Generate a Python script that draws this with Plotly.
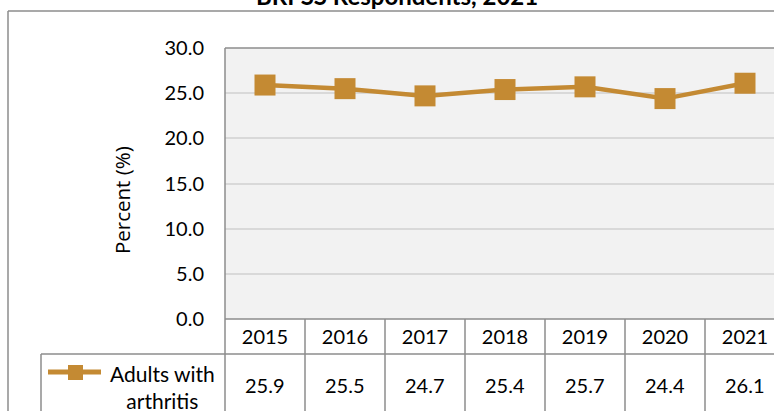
import plotly.graph_objects as go

years = ["2015", "2016", "2017", "2018", "2019", "2020", "2021"]
values = [25.9, 25.5, 24.7, 25.4, 25.7, 24.4, 26.1]
series_name = "Adults with<br>arthritis"
y_ticks = [0, 5, 10, 15, 20, 25, 30]
title_text = "BRFSS Respondents, 2021"
y_title = "Percent (%)"

W, H = 774, 411
L, T, B_PX = 225, 48, 319
PW, PH = W - L, B_PX - T
LINE = "#C48A33"
BORDER = "#8c8c8c"
FONT = "Lato"


def px_x(px):
    return (px - L) / PW


def px_y(py):
    return (B_PX - py) / PH


fig = go.Figure()
fig.add_trace(go.Scatter(
    x=list(range(len(years))), y=values, mode="lines+markers",
    line=dict(color=LINE, width=4.5),
    marker=dict(symbol="square", size=21, color=LINE),
    showlegend=False, cliponaxis=False,
))

shapes = []


def seg(x0, y0, x1, y1, xref="paper", color=BORDER, width=1.5):
    shapes.append(dict(type="line", xref=xref, yref="paper", x0=x0, y0=y0,
                       x1=x1, y1=y1, line=dict(color=color, width=width)))


# outer chart frame
seg(px_x(8), px_y(11), px_x(8), px_y(415))
seg(px_x(8), px_y(11), px_x(780), px_y(11))
# plot area border
seg(0, px_y(T), 0, px_y(415))
seg(0, px_y(T), px_x(780), px_y(T))
seg(0, 0, px_x(780), 0)
# table lines
seg(px_x(41), px_y(354), px_x(780), px_y(354))
seg(px_x(41), px_y(354), px_x(41), px_y(415))
for i in range(len(years) - 1):
    seg(i + 0.5, 0, i + 0.5, px_y(415), xref="x")

# legend sample
seg(px_x(48), px_y(372), px_x(101), px_y(372), color=LINE, width=5)
shapes.append(dict(type="rect", xref="paper", yref="paper",
                   x0=px_x(68), x1=px_x(83), y0=px_y(365), y1=px_y(380),
                   fillcolor=LINE, line=dict(width=0)))

annotations = [
    dict(text=f"<b>{title_text}</b>", xref="paper", yref="paper",
         x=px_x(397), y=px_y(-4), xanchor="center", yanchor="middle",
         showarrow=False, font=dict(family=FONT, size=24, color="#000")),
    dict(text=y_title, xref="paper", yref="paper", textangle=-90,
         x=px_x(122), y=px_y(200), xanchor="center", yanchor="middle",
         showarrow=False, font=dict(family="Open Sans", size=20.5, color="#000")),
    dict(text=series_name, xref="paper", yref="paper",
         x=px_x(162), y=px_y(387), xanchor="center", yanchor="middle",
         showarrow=False, align="center",
         font=dict(family=FONT, size=21, color="#000")),
]
for i, v in enumerate(values):
    annotations.append(dict(text=f"{v:.1f}", xref="x", yref="paper",
                            x=i, y=px_y(385), xanchor="center",
                            yanchor="middle", showarrow=False,
                            font=dict(family=FONT, size=20, color="#000")))

fig.update_layout(
    width=W, height=H,
    margin=dict(l=L, r=0, t=T, b=H - B_PX, pad=0),
    paper_bgcolor="white", plot_bgcolor="#f2f2f2",
    shapes=shapes, annotations=annotations,
    xaxis=dict(range=[-0.5, 6.5 - 11 / 80], tickmode="array",
               tickvals=list(range(len(years))), ticktext=years,
               showgrid=False, zeroline=False, ticks="", showline=False,
               tickfont=dict(family=FONT, size=20, color="#000"),
               ticklabelstandoff=4),
    yaxis=dict(range=[0, 30], tickvals=y_ticks,
               ticktext=[f"{t:.1f}" for t in y_ticks],
               showgrid=True, gridcolor="#d9d9d9", gridwidth=1.5,
               zeroline=False, ticks="", showline=False,
               tickfont=dict(family=FONT, size=20, color="#000"),
               ticklabelstandoff=20),
)

fig.write_html(
    "out.html",
    config={"displayModeBar": False},
    post_script="document.body.style.margin='0';document.body.style.overflow='hidden';",
)
